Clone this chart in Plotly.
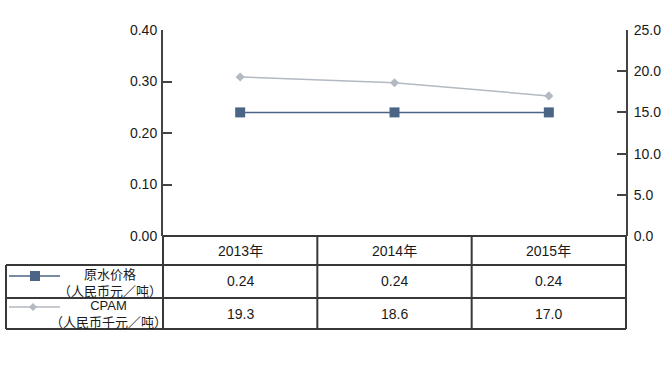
import plotly.graph_objects as go

years = ["2013年", "2014年", "2015年"]
raw_water_price = [0.24, 0.24, 0.24]
cpam_price = [19.3, 18.6, 17.0]
series_names = ["原水价格", "CPAM"]
series_units = ["（人民币元／吨）", "（人民币千元／吨）"]
left_ticks = [0.0, 0.1, 0.2, 0.3, 0.4]
right_ticks = [0.0, 5.0, 10.0, 15.0, 20.0, 25.0]

W, H = 664, 371
def px(x):
    return x / W
def py(y):
    return 1 - y / H

C1 = "#4a6585"
C2 = "#b3b9c1"
LINE = "#383838"
FONT = "Liberation Sans, Arial, sans-serif"
CJK = "Noto Sans CJK SC, sans-serif"

fig = go.Figure()
fig.add_trace(go.Scatter(x=years, y=raw_water_price, mode="lines+markers",
                         line=dict(color=C1, width=1.5),
                         marker=dict(symbol="square", size=10, color=C1),
                         showlegend=False))
fig.add_trace(go.Scatter(x=years, y=cpam_price, mode="lines+markers", yaxis="y2",
                         line=dict(color=C2, width=1.5),
                         marker=dict(symbol="diamond", size=7, color=C2),
                         showlegend=False))

x0, x1 = 163, 626
ytop, ybot = 30, 236
fig.update_layout(
    width=W, height=H, margin=dict(l=0, r=0, t=0, b=0, autoexpand=False),
    paper_bgcolor="white", plot_bgcolor="white",
    font=dict(family=FONT, size=14, color="#1a1a1a"),
    xaxis=dict(domain=[px(x0), px(x1)], range=[-0.5, 2.5], showticklabels=False,
               showgrid=False, zeroline=False, showline=False, ticks="", automargin=False),
    yaxis=dict(domain=[py(ybot), py(ytop)], range=[0, 0.4], tickvals=left_ticks,
               tickformat=".2f", showgrid=False, zeroline=False, showline=True,
               linecolor="#444", linewidth=2, ticks="inside", ticklen=9,
               tickwidth=2, tickcolor="#444", ticklabelstandoff=1, automargin=False),
    yaxis2=dict(domain=[py(ybot), py(ytop)], range=[0, 25], tickvals=right_ticks,
                tickformat=".1f", overlaying="y", side="right", anchor="x",
                showgrid=False, zeroline=False, showline=True,
                linecolor="#444", linewidth=2, ticks="inside", ticklen=9,
                tickwidth=2, tickcolor="#444", ticklabelstandoff=3, automargin=False),
)

shapes = []
def hline(y, xa, xb):
    shapes.append(dict(type="line", xref="paper", yref="paper", x0=px(xa), x1=px(xb),
                       y0=py(y), y1=py(y), line=dict(color=LINE, width=2)))
def vline_px(x, ya, yb):
    shapes.append(dict(type="line", xref="paper", yref="paper", x0=px(x), x1=px(x),
                       y0=py(ya), y1=py(yb), line=dict(color=LINE, width=2)))

rows = [236, 265, 298, 329]
hline(236, x0, x1)
for y in rows[1:]:
    hline(y, 6, x1)
vline_px(6, 265, 329)
vline_px(x0, 236, 329)
vline_px(x1, 236, 329)
for b in [0.5, 1.5]:
    shapes.append(dict(type="line", xref="x", yref="paper", x0=b, x1=b,
                       y0=py(236), y1=py(329), line=dict(color=LINE, width=2)))

# legend glyphs
def legend_line(y, c):
    shapes.append(dict(type="line", xref="paper", yref="paper",
                       x0=px(9), x1=px(60), y0=py(y), y1=py(y),
                       line=dict(color=c, width=1.5)))
legend_line(276, C1)
shapes.append(dict(type="rect", xref="paper", yref="paper", x0=px(30), x1=px(40),
                   y0=py(281), y1=py(271), fillcolor=C1, line=dict(width=0)))
legend_line(307, C2)
cx, cy, r = 33, 307, 4
shapes.append(dict(type="path", xref="paper", yref="paper",
                   path=f"M {px(cx)} {py(cy-r)} L {px(cx+r)} {py(cy)} L {px(cx)} {py(cy+r)} L {px(cx-r)} {py(cy)} Z",
                   fillcolor=C2, line=dict(width=0)))
fig.update_layout(shapes=shapes)

ann = []
def add_text(x, y, text, xref="paper", size=14, family=FONT, color="#1a1a1a"):
    ann.append(dict(x=x, y=py(y), xref=xref, yref="paper", text=text, showarrow=False,
                    xanchor="center", yanchor="middle",
                    font=dict(family=family, size=size, color=color)))

for i, yr in enumerate(years):
    add_text(i, 251, yr, xref="x", family=FONT + ", " + CJK)
    add_text(i, 281, f"{raw_water_price[i]:.2f}", xref="x")
    add_text(i, 314, f"{cpam_price[i]:.1f}", xref="x")

add_text(px(110), 281.5, series_names[0] + "<br>" + series_units[0], size=13, family=CJK)
add_text(px(109), 313.5, series_names[1] + "<br>" + series_units[1], size=13,
         family=FONT + ", " + CJK)
fig.update_layout(annotations=ann)

fig.write_html("out.html", config={"displayModeBar": False},
               post_script="document.body.style.margin='0';")
